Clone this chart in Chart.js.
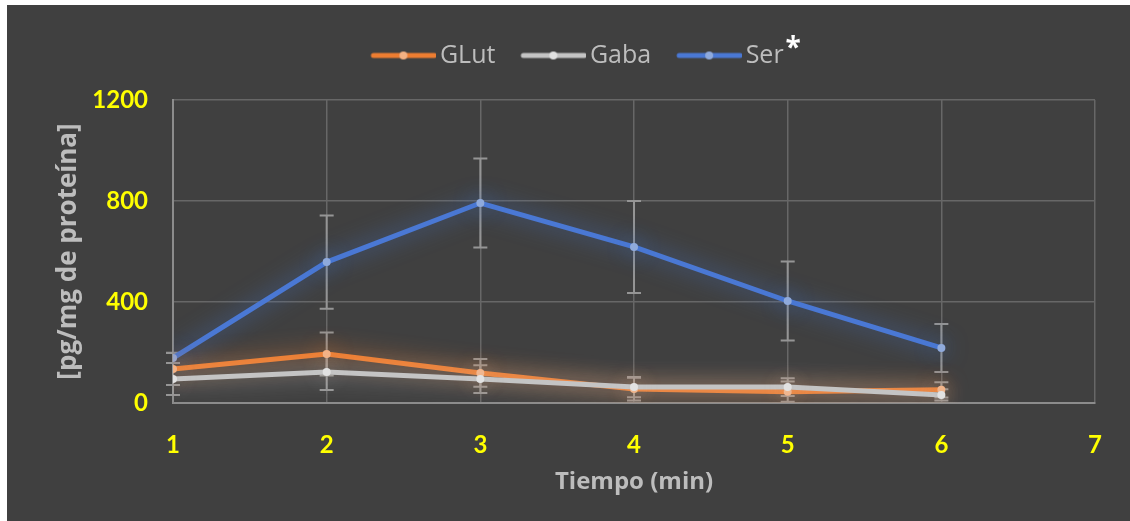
<!DOCTYPE html>
<html>
<head>
<meta charset="utf-8">
<script src="https://cdn.jsdelivr.net/npm/chart.js@4"></script>
<style>
  html, body { margin: 0; padding: 0; background: #ffffff; }
  body { width: 1130px; height: 521px; overflow: hidden; position: relative; }
  #frame { position: absolute; left: 7px; top: 5px; width: 1123px; height: 516px; background: #404040; }
</style>
</head>
<body>
<div id="frame"><canvas id="grafico"></canvas></div>
<script>
// tiempos (min) y concentraciones [pg/mg de proteína]
const tiempos = [1, 2, 3, 4, 5, 6];
const glutVals = [135, 194, 119, 55, 45, 52];
const glutErr  = [64, 85, 55, 45, 40, 30];
const gabaVals = [95, 123, 95, 63, 63, 32];
const gabaErr  = [63, 72, 55, 40, 35, 22];
const serVals  = [178, 558, 792, 618, 404, 218];
const serErr   = [20, 185, 176, 182, 156, 95];
const yTicks   = [0, 400, 800, 1200];

function pts(vals) {
    return tiempos.map(function (t, i) { return { x: t, y: vals[i] }; });
}

// muestra de la leyenda: linea con punto, pegada al texto
function legendLine(color, dot) {
    const c = document.createElement('canvas');
    c.width = 68; c.height = 12;
    const g = c.getContext('2d');
    g.strokeStyle = color;
    g.lineWidth = 5;
    g.lineCap = 'round';
    g.beginPath(); g.moveTo(5, 6); g.lineTo(66, 6); g.stroke();
    g.fillStyle = dot;
    g.beginPath(); g.arc(35, 6, 4, 0, Math.PI * 2); g.fill();
    return c;
}

const series = [
    { label: 'GLut', vals: glutVals, err: glutErr, color: '#ED7D31', dot: '#F4B183', glow: 'rgba(237,125,49,0.9)' },
    { label: 'Gaba', vals: gabaVals, err: gabaErr, color: '#C4C4C4', dot: '#E2E2E2', glow: 'rgba(220,220,220,0.7)' },
    { label: 'Ser',  vals: serVals,  err: serErr,  color: '#4A78D4', dot: '#8FAADC', glow: 'rgba(68,114,196,0.9)' }
];

const datasets = series.map(function (s, i) {
    return {
        label: s.label,
        data: pts(s.vals),
        errores: s.err,
        glow: s.glow,
        muestra: legendLine(s.color, s.dot),
        borderColor: s.color,
        backgroundColor: s.color,
        borderWidth: 5,
        pointRadius: 4,
        pointBorderWidth: 0,
        pointBackgroundColor: s.dot,
        pointStyle: 'circle',
        tension: 0,
        order: i === 1 ? 0 : 1
    };
});

// barras de error, debajo de las lineas
const errorBars = {
    id: 'errorBars',
    beforeDatasetsDraw(chart) {
        const ctx = chart.ctx;
        const xs = chart.scales.x, ys = chart.scales.y;
        ctx.save();
        ctx.strokeStyle = '#959595';
        ctx.lineWidth = 2;
        chart.data.datasets.forEach(function (ds) {
            ds.data.forEach(function (p, i) {
                const e = ds.errores[i];
                const x = xs.getPixelForValue(p.x);
                const y1 = ys.getPixelForValue(p.y + e);
                const y2 = ys.getPixelForValue(Math.max(p.y - e, 0));
                ctx.beginPath();
                ctx.moveTo(x, y1); ctx.lineTo(x, y2);
                ctx.moveTo(x - 7, y1); ctx.lineTo(x + 7, y1);
                ctx.moveTo(x - 7, y2); ctx.lineTo(x + 7, y2);
                ctx.stroke();
            });
        });
        ctx.restore();
    }
};

// brillo alrededor de cada serie
const glow = {
    id: 'glow',
    beforeDatasetDraw(chart, args) {
        const ctx = chart.ctx;
        ctx.save();
        ctx.shadowColor = chart.data.datasets[args.index].glow;
        ctx.shadowBlur = 22;
    },
    afterDatasetDraw(chart) {
        chart.ctx.restore();
    }
};

// leyenda un poco a la derecha, como en el original
const moverLeyenda = {
    id: 'moverLeyenda',
    afterLayout(chart) {
        if (chart.legend) chart.legend.left += 58;
    }
};

// asterisco blanco junto a "Ser"
const asterisco = {
    id: 'asterisco',
    afterDraw(chart) {
        const lg = chart.legend;
        if (!lg || !lg.legendHitBoxes.length) return;
        const hb = lg.legendHitBoxes[2];
        const ctx = chart.ctx;
        ctx.save();
        ctx.fillStyle = '#ffffff';
        ctx.font = 'bold 28px "Open Sans"';
        ctx.textBaseline = 'middle';
        ctx.fillText('*', hb.left + hb.width + 2, hb.top + 6);
        ctx.restore();
    }
};

new Chart(document.getElementById('grafico'), {
    type: 'line',
    data: { datasets: datasets },
    plugins: [errorBars, glow, moverLeyenda, asterisco],
    options: {
        responsive: true,
        maintainAspectRatio: false,
        animation: false,
        layout: { padding: { left: 0, right: 34, top: 6, bottom: 0 } },
        plugins: {
            tooltip: { enabled: false },
            legend: {
                position: 'top',
                labels: {
                    usePointStyle: true,
                    pointStyleWidth: 50,
                    color: '#BDBDBD',
                    padding: 32,
                    font: { family: 'Open Sans', size: 25 },
                    sort: function (a, b) { return a.datasetIndex - b.datasetIndex; },
                    generateLabels: function (chart) {
                        const items = Chart.defaults.plugins.legend.labels.generateLabels(chart);
                        items.forEach(function (it) {
                            it.pointStyle = chart.data.datasets[it.datasetIndex].muestra;
                        });
                        return items;
                    }
                }
            },
            subtitle: {
                display: true,
                text: '',
                weight: 500,
                padding: { top: 21, bottom: 0 },
                font: { size: 1, lineHeight: 1 }
            }
        },
        scales: {
            x: {
                type: 'linear',
                min: 1,
                max: 7,
                afterFit: function (s) { s.height = 118; },
                ticks: {
                    stepSize: 1,
                    padding: 28,
                    color: '#FFFF00',
                    font: { family: 'Lato', size: 24, weight: 'bold' }
                },
                grid: { color: '#676767', lineWidth: 1.5, drawTicks: false },
                border: { color: '#8C8C8C', width: 2 },
                title: {
                    display: true,
                    text: 'Tiempo (min)',
                    color: '#BDBDBD',
                    font: { family: 'Open Sans', size: 24, weight: 'bold' },
                    padding: { top: 0, bottom: 24 }
                }
            },
            y: {
                min: 0,
                max: 1200,
                afterFit: function (s) { s.width = 166; },
                afterBuildTicks: function (s) { s.ticks = yTicks.map(function (v) { return { value: v }; }); },
                ticks: {
                    padding: 25,
                    color: '#FFFF00',
                    font: { family: 'Lato', size: 24, weight: 'bold' },
                    callback: function (v) { return String(v); }
                },
                grid: { color: '#676767', lineWidth: 1.5, drawTicks: false },
                border: { color: '#8C8C8C', width: 2 },
                title: {
                    display: true,
                    text: '[pg/mg de proteína]',
                    color: '#BDBDBD',
                    font: { family: 'Open Sans', size: 26, weight: 'bold' },
                    padding: { top: 46, bottom: 0 }
                }
            }
        }
    }
});
</script>
</body>
</html>
